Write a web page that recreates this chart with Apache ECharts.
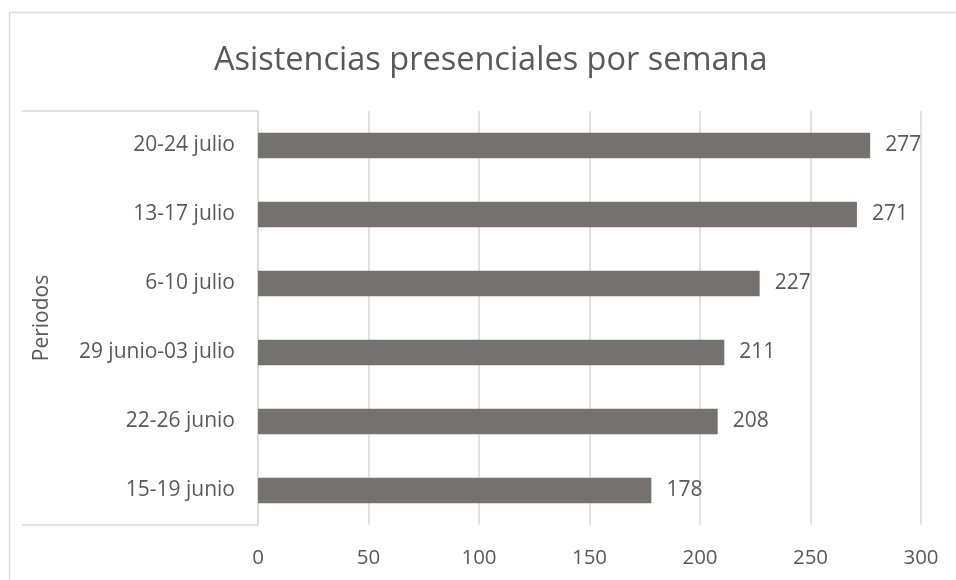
<!DOCTYPE html>
<html>
<head>
<meta charset="utf-8">
<script src="https://cdn.jsdelivr.net/npm/echarts@6/dist/echarts.min.js"></script>
<style>
  html, body { margin: 0; padding: 0; background: #fff; }
  #chart { width: 956px; height: 580px; }
</style>
</head>
<body>
<div id="chart"></div>
<script>
  const periodos = ["15-19 junio", "22-26 junio", "29 junio-03 julio", "6-10 julio", "13-17 julio", "20-24 julio"];
  const asistencias = [178, 208, 211, 227, 271, 277];
  const xTicks = [0, 50, 100, 150, 200, 250, 300];

  const textColor = "#595959";
  const lineColor = "#d9d9d9";
  const font = "Open Sans";

  const chart = echarts.init(document.getElementById("chart"));
  const option = {
    animation: false,
    title: {
      text: "Asistencias presenciales por semana",
      left: 209,
      top: 39,
      textStyle: { fontFamily: font, fontSize: 32.5, fontWeight: "normal", color: textColor }
    },
    grid: { left: 258, right: 35, top: 111, bottom: 55 },
    xAxis: {
      type: "value",
      min: xTicks[0],
      max: xTicks[xTicks.length - 1],
      interval: 50,
      axisLine: { show: false },
      axisTick: { show: false },
      axisLabel: { color: textColor, fontFamily: font, fontSize: 20.5, margin: 23 },
      splitLine: { lineStyle: { color: lineColor, width: 1.5 } }
    },
    yAxis: {
      type: "category",
      data: periodos,
      name: "Periodos",
      nameLocation: "middle",
      nameGap: 205,
      nameRotate: 90,
      nameTextStyle: { color: textColor, fontFamily: font, fontSize: 21 },
      axisLine: { lineStyle: { color: lineColor, width: 1.5 } },
      axisTick: { show: false },
      axisLabel: { color: textColor, fontFamily: font, fontSize: 21, margin: 23 }
    },
    series: [{
      type: "bar",
      data: asistencias,
      barWidth: "37%",
      itemStyle: { color: "#767171" },
      label: {
        show: true,
        position: "right",
        distance: 15,
        color: textColor,
        fontFamily: font,
        fontSize: 21
      }
    }],
    graphic: [
      { type: "rect", silent: true, shape: { x: 9.5, y: 12.5, width: 960, height: 600 },
        style: { fill: null, stroke: lineColor, lineWidth: 1.5 } },
      { type: "line", silent: true, shape: { x1: 22, y1: 111, x2: 258, y2: 111 },
        style: { stroke: lineColor, lineWidth: 1.5 } },
      { type: "line", silent: true, shape: { x1: 22, y1: 525, x2: 258, y2: 525 },
        style: { stroke: lineColor, lineWidth: 1.5 } }
    ]
  };
  chart.setOption(option);
</script>
</body>
</html>
